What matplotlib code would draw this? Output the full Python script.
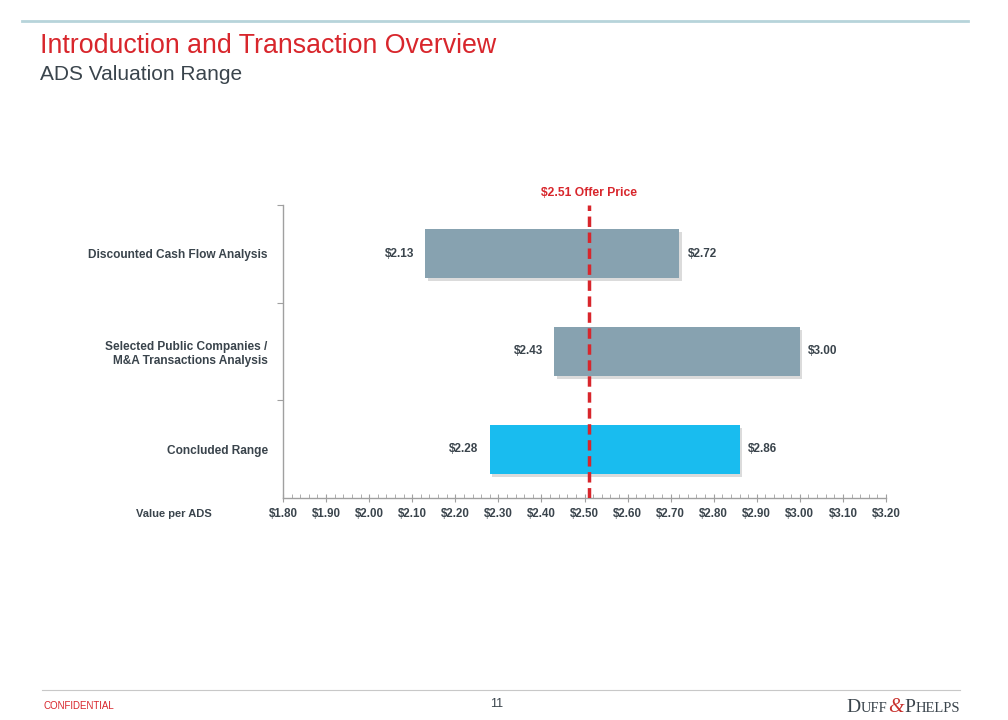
import matplotlib
matplotlib.use("Agg")
import matplotlib.pyplot as plt
from matplotlib.ticker import MultipleLocator, FixedLocator, FuncFormatter

plt.rcParams['font.family'] = ['Liberation Sans', 'DejaVu Sans']

categories = ["Discounted Cash Flow Analysis",
              "Selected Public Companies /\nM&A Transactions Analysis",
              "Concluded Range"]
low_values = [2.13, 2.43, 2.28]
high_values = [2.72, 3.00, 2.86]
bar_colors = ["#87A2B0", "#87A2B0", "#19BCEF"]
offer_price = 2.51
x_min, x_max = 1.80, 3.20

DARK = "#3A444C"
RED = "#D8262C"

fig = plt.figure(figsize=(10.08, 7.2), dpi=100)
fig.patch.set_facecolor("white")

# Header / footer decoration
fig.add_artist(plt.Line2D([22/1008, 968/1008], [1-21/720, 1-21/720], color="#B7D4DA", lw=2))
fig.add_artist(plt.Line2D([42/1008, 960/1008], [1-690/720, 1-690/720], color="#C8C8C8", lw=0.8))
fig.text(40/1008, 1-46/720, "Introduction and Transaction Overview", color=RED,
         fontsize=19.3, va="center", ha="left")
fig.text(40/1008, 1-75/720, "ADS Valuation Range", color=DARK,
         fontsize=15, va="center", ha="left")
fig.text(44/1008, 1-706/720, "CONFIDENTIAL", color=RED, fontsize=7, va="center", ha="left")
fig.text(497/1008, 1-704/720, "11", color=DARK, fontsize=9, va="center", ha="center")

# Logo text pieces
renderer = fig.canvas.get_renderer()
x = 846
pieces = [("D", 14, DARK, "normal"), ("UFF", 10.5, DARK, "normal"),
          ("&", 14.5, "#C8302C", "italic"), ("P", 14, DARK, "normal"),
          ("HELPS", 10.5, DARK, "normal")]
for s, fs, c, st in pieces:
    t = fig.text(x/1008, 1-712/720, s, fontsize=fs, color=c, style=st,
                 family="Liberation Serif", va="baseline", ha="left")
    bb = t.get_window_extent(renderer=renderer)
    x += bb.width + 0.5

ax = fig.add_axes([283/1008, 1-498/720, 603/1008, 293/720])

ypos = list(range(len(categories)))
widths = [h - l for l, h in zip(low_values, high_values)]
# shadows
ax.barh([y + 0.03 for y in ypos], widths, left=[l + 0.006 for l in low_values],
        height=0.5, color="#B8B8B8", alpha=0.5, zorder=1)
ax.barh(ypos, widths, left=low_values, height=0.5, color=bar_colors, zorder=2)

for y, l, h in zip(ypos, low_values, high_values):
    ax.annotate(f"${l:.2f}", (l, y), xytext=(-8, 0), textcoords="offset points",
                ha="right", va="center", fontsize=8.5, fontweight="bold", color=DARK)
    ax.annotate(f"${h:.2f}", (h, y), xytext=(6, 0), textcoords="offset points",
                ha="left", va="center", fontsize=8.5, fontweight="bold", color=DARK)

ax.axvline(offer_price, color=RED, lw=2.5, ls=(0, (3, 1.6)), zorder=3)
ax.annotate(f"${offer_price:.2f} Offer Price", (offer_price, -0.5), xytext=(0, 4),
            textcoords="offset points", ha="center", va="bottom",
            fontsize=8.7, fontweight="bold", color=RED, annotation_clip=False)

ax.set_xlim(x_min, x_max)
ax.set_ylim(2.5, -0.5)

ax.xaxis.set_major_locator(MultipleLocator(0.1))
ax.xaxis.set_minor_locator(MultipleLocator(0.02))
ax.xaxis.set_major_formatter(FuncFormatter(lambda v, p: f"${v:.2f}"))
ax.tick_params(axis="x", which="major", direction="inout", length=6, width=0.8,
               color="#A0A0A0", labelsize=8.3, labelcolor=DARK, pad=4)
ax.tick_params(axis="x", which="minor", direction="in", length=3, width=0.6,
               color="#A0A0A0")
for lab in ax.get_xticklabels():
    lab.set_fontweight("bold")

ax.set_yticks(ypos)
ax.set_yticklabels(categories, fontsize=8.6, fontweight="bold", color=DARK, ha="right")
ax.yaxis.set_minor_locator(FixedLocator([-0.5, 0.5, 1.5]))
ax.tick_params(axis="y", which="major", length=0, pad=11)
ax.tick_params(axis="y", which="minor", direction="out", length=4, width=0.8, color="#A0A0A0")

for sp in ["top", "right"]:
    ax.spines[sp].set_visible(False)
for sp in ["left", "bottom"]:
    ax.spines[sp].set_color("#A0A0A0")
    ax.spines[sp].set_linewidth(1)

fig.text(212/1008, 1-514/720, "Value per ADS", fontsize=8, fontweight="bold",
         color=DARK, ha="right", va="center")

fig.savefig("out.png", dpi=100, facecolor="white")
